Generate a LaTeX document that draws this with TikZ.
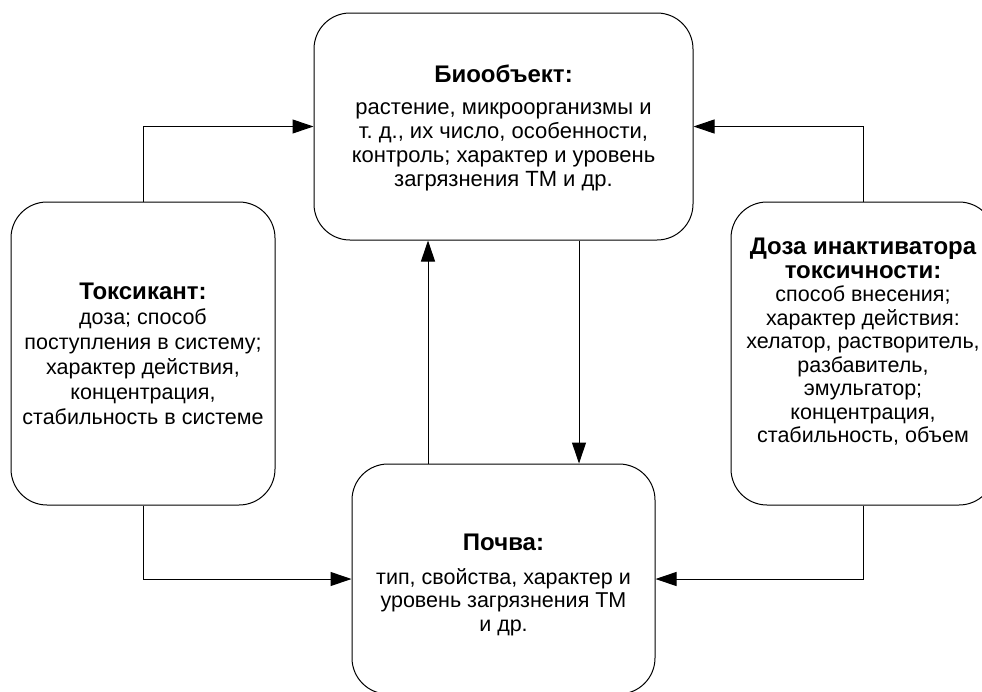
\documentclass[tikz,border=0pt]{standalone}
\usepackage{fontspec}
\setmainfont{Liberation Sans}
\usetikzlibrary{arrows.meta}

\newcommand{\boxtitle}[1]{{\fontsize{24}{24}\selectfont\bfseries #1}}

\begin{document}
\begin{tikzpicture}[x=1pt,y=-1pt,every node/.style={font=\fontsize{21.5}{23.5}\selectfont},
  box/.style={draw,line width=1pt,rounded corners=36pt,inner sep=0pt},
  boxtext/.style={align=center,inner sep=0pt},
  link/.style={line width=1pt,-{Triangle[length=21pt,width=14pt]}}]
\useasboundingbox (0,0) rectangle (982,691);
\clip (0,0) rectangle (982,691);
% boxes
\node[box,minimum width=379pt,minimum height=227pt] (bio) at (503.5,126.5) {};
\node[box,minimum width=264pt,minimum height=303pt] (tox) at (143,353.5) {};
\node[box,minimum width=264pt,minimum height=303pt] (doza) at (863,353.5) {};
\node[box,minimum width=303pt,minimum height=230pt] (soil) at (503.5,579) {};
% texts
\node[boxtext,font=\fontsize{22}{24}\selectfont] (biotext) at (503.5,128)
  {\boxtitle{Биообъект:}\\[8pt]растение, микроорганизмы и\\т.~д., их число, особенности,\\контроль; характер и уровень\\загрязнения ТМ и др.};
\node[boxtext,font=\fontsize{21.5}{25}\selectfont] (toxtext) at (143,354)
  {\boxtitle{Токсикант:}\\доза; способ\\поступления в систему;\\характер действия,\\концентрация,\\стабильность в системе};
\node[boxtext] (dozatext) at (863,342)
  {\boxtitle{Доза инактиватора}\\\boxtitle{токсичности:}\\способ внесения;\\характер действия:\\хелатор, растворитель,\\разбавитель,\\эмульгатор;\\концентрация,\\стабильность, объем};
\node[boxtext] (soiltext) at (503.5,585)
  {\boxtitle{Почва:}\\[10pt]тип, свойства, характер и\\уровень загрязнения ТМ\\и др.};
% connectors
\coordinate (up) at (428,0);
\coordinate (dn) at (579,0);
\draw[link] (tox.north) |- (bio.west);
\draw[link] (doza.north) |- (bio.east);
\draw[link] (tox.south) |- (soil.west);
\draw[link] (doza.south) |- (soil.east);
\draw[link] (up |- soil.north) -- (up |- bio.south);
\draw[link] (dn |- bio.south) -- (dn |- soil.north);
\end{tikzpicture}
\end{document}
